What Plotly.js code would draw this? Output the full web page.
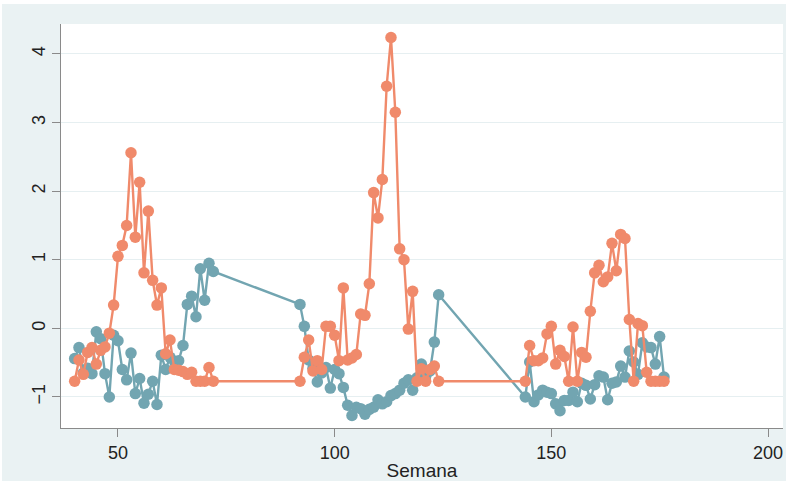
<!DOCTYPE html>
<html>
<head>
<meta charset="utf-8">
<script src="https://cdn.plot.ly/plotly-3.0.1.min.js"></script>
<style>
  html, body { margin: 0; padding: 0; background: #ffffff; }
  #wrap { position: relative; width: 786px; height: 481px; }
  #bg { position: absolute; left: 2px; top: 4px; right: 0; bottom: 0; background: #EAF2F3; }
  #chart { position: absolute; left: 0; top: 0; width: 786px; height: 481px; }
</style>
</head>
<body>
<div id="wrap">
  <div id="bg"></div>
  <div id="chart"></div>
</div>
<script>
// Semanas observadas (tres tramos)
const semanas = [
  40, 41, 42, 43, 44, 45, 46, 47, 48, 49, 50, 51, 52, 53, 54, 55, 56,
  57, 58, 59, 60, 61, 62, 63, 64, 65, 66, 67, 68, 69, 70, 71, 72,
  92, 93, 94, 95, 96, 97, 98, 99, 100, 101, 102, 103, 104, 105, 106, 107, 108,
  109, 110, 111, 112, 113, 114, 115, 116, 117, 118, 119, 120, 121, 122, 123, 124,
  144, 145, 146, 147, 148, 149, 150, 151, 152, 153, 154, 155, 156, 157, 158, 159, 160,
  161, 162, 163, 164, 165, 166, 167, 168, 169, 170, 171, 172, 173, 174, 175, 176
];

// Serie azul verdosa
const serieA = [
  -0.44, -0.28, -0.65, -0.58, -0.66, -0.05, -0.15, -0.66, -1.00, -0.10, -0.18, -0.60, -0.75, -0.36, -0.95, -0.73, -1.09,
  -0.96, -0.77, -1.11, -0.39, -0.60, -0.42, -0.48, -0.47, -0.25, 0.35, 0.47, 0.17, 0.87, 0.41, 0.95, 0.83,
  0.35, 0.03, -0.46, -0.58, -0.78, -0.65, -0.57, -0.87, -0.60, -0.66, -0.86, -1.12, -1.27, -1.15, -1.17, -1.25, -1.18,
  -1.15, -1.04, -1.10, -1.07, -0.98, -0.95, -0.90, -0.80, -0.75, -0.90, -0.72, -0.52, -0.70, -0.62, -0.20, 0.49,
  -1.00, -0.49, -1.07, -0.97, -0.90, -0.93, -0.95, -1.10, -1.20, -1.05, -1.05, -0.93, -1.07, -0.80, -0.83, -1.03, -0.82,
  -0.69, -0.71, -1.04, -0.80, -0.78, -0.55, -0.71, -0.33, -0.49, -0.67, -0.21, -0.27, -0.28, -0.52, -0.12, -0.71
];

// Serie naranja
const serieB = [
  -0.77, -0.46, -0.67, -0.35, -0.28, -0.52, -0.32, -0.27, -0.07, 0.34, 1.05, 1.21, 1.50, 2.56, 1.33, 2.13, 0.81,
  1.71, 0.70, 0.34, 0.59, -0.37, -0.17, -0.60, -0.61, -0.63, -0.67, -0.64, -0.77, -0.77, -0.77, -0.57, -0.77,
  -0.77, -0.42, -0.17, -0.62, -0.47, -0.60, 0.03, 0.03, -0.10, -0.47, 0.59, -0.46, -0.43, -0.38, 0.21, 0.19, 0.65,
  1.98, 1.61, 2.17, 3.53, 4.24, 3.15, 1.16, 1.00, -0.01, 0.54, -0.77, -0.59, -0.77, -0.60, -0.55, -0.77,
  -0.77, -0.25, -0.47, -0.47, -0.43, -0.08, 0.03, -0.52, -0.32, -0.41, -0.77, 0.02, -0.77, -0.35, -0.42, 0.25, 0.81,
  0.92, 0.68, 0.75, 1.24, 0.84, 1.37, 1.31, 0.13, -0.77, 0.07, 0.04, -0.64, -0.77, -0.77, -0.77, -0.77
];

const xTicks = [50, 100, 150, 200];
const yTicks = [-1, 0, 1, 2, 3, 4];

const colorA = '#72A5B1';
const colorB = '#F08A6B';
const font = 'Liberation Sans Narrow, Liberation Sans, Arial, sans-serif';

const traces = [
  {
    x: semanas, y: serieA, type: 'scatter', mode: 'lines+markers',
    line: { color: colorA, width: 2.4 },
    marker: { color: colorA, size: 11.5 },
    hoverinfo: 'x+y'
  },
  {
    x: semanas, y: serieB, type: 'scatter', mode: 'lines+markers',
    line: { color: colorB, width: 2.4 },
    marker: { color: colorB, size: 11.5 },
    hoverinfo: 'x+y'
  }
];

const layout = {
  width: 786, height: 481,
  margin: { l: 61, r: 3, t: 24, b: 53 },
  paper_bgcolor: 'rgba(0,0,0,0)',
  plot_bgcolor: '#ffffff',
  showlegend: false,
  font: { family: font, size: 18, color: '#222222' },
  xaxis: {
    range: [36.85, 203.46],
    tickmode: 'array', tickvals: xTicks, ticktext: xTicks.map(String),
    showgrid: false, zeroline: false,
    showline: true, linecolor: '#8a8a8a', linewidth: 1,
    ticks: 'outside', ticklen: 8, tickcolor: '#8a8a8a',
    tickfont: { family: font, size: 18, color: '#222222' },
    title: { text: 'Semana', font: { family: font, size: 19, color: '#222222' }, standoff: 6 }
  },
  yaxis: {
    range: [-1.452, 4.437],
    tickmode: 'array', tickvals: yTicks, ticktext: yTicks.map(v => v < 0 ? '\u2212' + Math.abs(v) : String(v)),
    tickangle: -90,
    showgrid: true, gridcolor: '#E6EFF1', gridwidth: 1,
    zeroline: false,
    showline: true, linecolor: '#8a8a8a', linewidth: 1,
    ticks: 'outside', ticklen: 8, tickcolor: '#8a8a8a',
    tickfont: { family: font, size: 18, color: '#222222' }
  }
};

Plotly.newPlot('chart', traces, layout, { staticPlot: true, displayModeBar: false });
</script>
</body>
</html>
